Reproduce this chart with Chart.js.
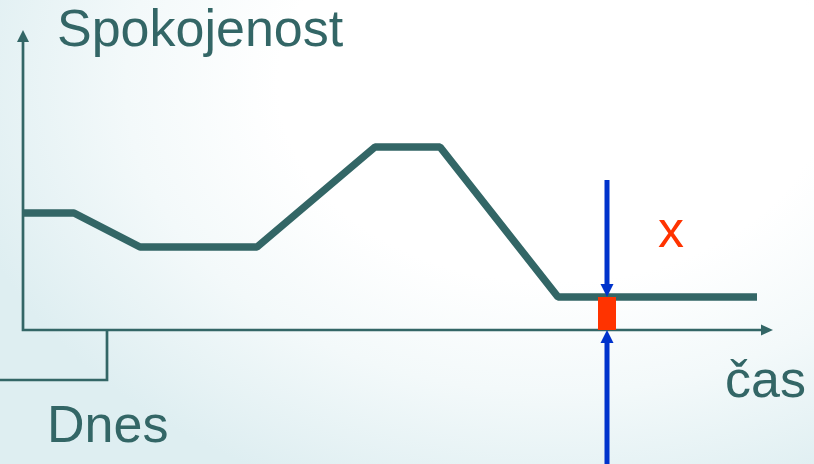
<!DOCTYPE html>
<html>
<head>
<meta charset="utf-8">
<script src="https://cdn.jsdelivr.net/npm/chart.js@4/dist/chart.umd.min.js"></script>
<style>
  html, body { margin: 0; padding: 0; }
  body {
    width: 814px; height: 464px; overflow: hidden;
    background: radial-gradient(ellipse 75% 95% at 68% 18%, #ffffff 45%, #f3f9fa 70%, #deeef1 100%);
  }
  canvas { display: block; }
</style>
</head>
<body>
<canvas id="c" width="814" height="464"></canvas>
<script>
// Satisfaction over time
const times        = [0, 5.1, 11.7, 23.4, 35.2, 41.7, 53.5, 73.4];
const satisfaction = [11.7, 11.7, 8.3, 8.3, 18.3, 18.3, 3.3, 3.3];

// Marked moment and its gap above the time axis ("x")
const markerTime = 58.4;
const markerGap  = 3.3;
const markerTop  = 15;

// "Dnes" (today) bracket position on the time axis
const todayTime = 8.4;

// Axis extents
const xAxisEnd = 75;
const yAxisEnd = 30;

const yTitle = 'Spokojenost';
const xTitle = 'čas';
const todayLabel = 'Dnes';
const gapLabel = 'x';

const TEAL = '#336666';
const BLUE = '#0033cc';
const RED = '#ff3300';

function arrowHead(ctx, tipX, tipY, dx, dy, len, half, color) {
  // dx, dy: unit direction the arrow points to
  const bx = tipX - dx * len, by = tipY - dy * len;
  ctx.beginPath();
  ctx.moveTo(tipX, tipY);
  ctx.lineTo(bx - dy * half, by + dx * half);
  ctx.lineTo(bx + dy * half, by - dx * half);
  ctx.closePath();
  ctx.fillStyle = color;
  ctx.fill();
}

const axesPlugin = {
  id: 'axesAndNotes',
  beforeDatasetsDraw(chart) {
    const { ctx, scales: { x, y } } = chart;
    const x0 = x.getPixelForValue(0), y0 = y.getPixelForValue(0);
    const xe = x.getPixelForValue(xAxisEnd), ye = y.getPixelForValue(yAxisEnd);
    const xt = x.getPixelForValue(todayTime);
    ctx.save();
    ctx.strokeStyle = TEAL;
    ctx.lineWidth = 2.7;
    ctx.lineCap = 'butt';
    ctx.lineJoin = 'miter';
    // axes
    ctx.beginPath();
    ctx.moveTo(x0, ye + 10);
    ctx.lineTo(x0, y0);
    ctx.lineTo(xe - 10, y0);
    ctx.stroke();
    arrowHead(ctx, xe, y0, 1, 0, 12, 5.5, TEAL);
    arrowHead(ctx, x0, ye, 0, -1, 12, 6, TEAL);
    // today bracket
    ctx.beginPath();
    ctx.moveTo(xt, y0);
    ctx.lineTo(xt, y0 + 50);
    ctx.lineTo(0, y0 + 50);
    ctx.stroke();
    ctx.restore();
  },
  afterDatasetsDraw(chart) {
    const { ctx, scales: { x, y } } = chart;
    const xm = x.getPixelForValue(markerTime);
    const yLine = y.getPixelForValue(markerGap);
    const y0 = y.getPixelForValue(0);
    const yTop = y.getPixelForValue(markerTop);
    const yBottom = chart.height;
    ctx.save();
    ctx.strokeStyle = BLUE;
    ctx.lineWidth = 5;
    ctx.lineCap = 'butt';
    ctx.beginPath();
    ctx.moveTo(xm, yTop);
    ctx.lineTo(xm, yLine - 12);
    ctx.moveTo(xm, yBottom);
    ctx.lineTo(xm, y0 + 12);
    ctx.stroke();
    arrowHead(ctx, xm, yLine, 0, 1, 13, 6.5, BLUE);
    arrowHead(ctx, xm, y0, 0, -1, 13, 6.5, BLUE);

    // texts
    ctx.font = '52px "Liberation Sans", Arial, sans-serif';
    ctx.textBaseline = 'alphabetic';
    ctx.fillStyle = TEAL;
    ctx.textAlign = 'left';
    const x0 = x.getPixelForValue(0);
    const ye = y.getPixelForValue(yAxisEnd);
    ctx.fillText(yTitle, x0 + 34, ye + 16);
    ctx.fillText(xTitle, x.getPixelForValue(xAxisEnd) - 48, y0 + 67);
    ctx.fillText(todayLabel, x0 + 24, y0 + 112);
    ctx.fillStyle = RED;
    ctx.textAlign = 'center';
    ctx.fillText(gapLabel, xm + 64, y.getPixelForValue(markerGap) - 50);
    ctx.restore();
  }
};

new Chart(document.getElementById('c'), {
  type: 'line',
  data: {
    datasets: [
      {
        label: yTitle,
        data: times.map((t, i) => ({ x: t, y: satisfaction[i] })),
        borderColor: TEAL,
        borderWidth: 7.5,
        borderCapStyle: 'butt',
        borderJoinStyle: 'bevel',
        pointRadius: 0,
        tension: 0,
        fill: false,
        order: 2
      },
      {
        label: gapLabel,
        data: [{ x: markerTime, y: 0 }, { x: markerTime, y: markerGap }],
        borderColor: RED,
        borderWidth: 18,
        borderCapStyle: 'butt',
        pointRadius: 0,
        fill: false,
        order: 1
      }
    ]
  },
  options: {
    responsive: false,
    animation: false,
    layout: { padding: 0 },
    plugins: { legend: { display: false }, tooltip: { enabled: false } },
    scales: {
      x: { type: 'linear', min: -2.3, max: 79.1, display: false },
      y: { type: 'linear', min: -13.4, max: 33, display: false }
    }
  },
  plugins: [axesPlugin]
});
</script>
</body>
</html>
